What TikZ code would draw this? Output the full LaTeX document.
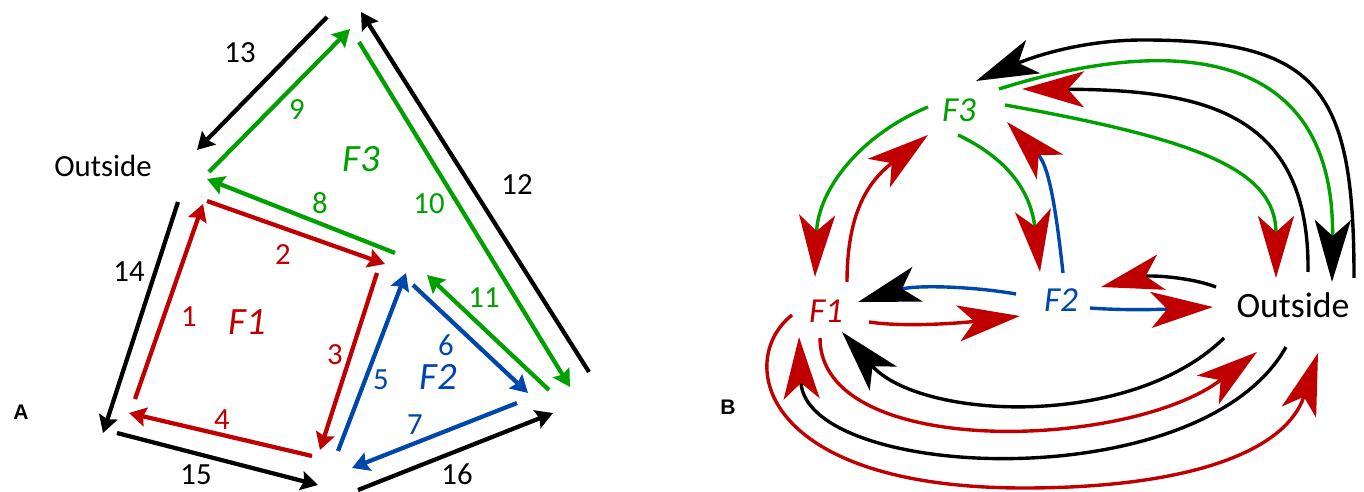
\documentclass[tikz,border=0pt]{standalone}
\usepackage{fontspec}
\setmainfont{Carlito}
\newfontfamily\panelfont{Liberation Sans}
\usetikzlibrary{arrows.meta,calc}
\definecolor{cRed}{HTML}{C00000}
\definecolor{cGreen}{HTML}{00A000}
\definecolor{cBlue}{HTML}{0047AB}
\tikzset{
  aflow/.style  ={line width=0.085cm, -{Stealth[length=0.34cm, width=0.38cm, inset=0.05cm]}},
  bflow/.style  ={line width=0.068cm},
  bheadR/.style ={-{Stealth[length=1.24cm, width=0.72cm, inset=0.32cm, color=cRed]}},
  bheadK/.style ={-{Stealth[length=1.24cm, width=0.72cm, inset=0.32cm, color=black]}},
  num/.style    ={font=\fontsize{17.5}{20}\selectfont, inner sep=0pt},
  fa/.style     ={font=\fontsize{22}{26}\selectfont\itshape, inner sep=0pt},
  fb/.style     ={font=\fontsize{20}{24}\selectfont\itshape, inner sep=0pt},
  outb/.style   ={font=\fontsize{20.3}{24}\selectfont, inner sep=0pt},
  panel/.style  ={font=\panelfont\bfseries\fontsize{12}{14}\selectfont, inner sep=0pt},
}
\begin{document}
\begin{tikzpicture}[x=0.02cm, y=-0.02cm]
\useasboundingbox (0,0) rectangle (1364,492);

% ---- panel A
\node[panel] (labA) at (21,412) {A};
\node[num] (outA) at (103,166) {Outside};
\node[fa, text=cGreen] (F3a) at (361,159) {F3};
\node[fa, text=cRed] (F1a) at (247,322) {F1};
\node[fa, text=cBlue] (F2a) at (438,377) {F2};

\draw[aflow, cRed] (135,399) -- (203,204);   \node[num, text=cRed] (l1) at (189,317) {1};
\draw[aflow, cRed] (207,201) -- (385,264);   \node[num, text=cRed] (l2) at (283,255) {2};
\draw[aflow, cRed] (377,273) -- (320,450);   \node[num, text=cRed] (l3) at (335,355) {3};
\draw[aflow, cRed] (312,456) -- (129,413);   \node[num, text=cRed] (l4) at (222,420) {4};
\draw[aflow, cBlue] (338,451) -- (406,273);  \node[num, text=cBlue] (l5) at (381,380) {5};
\draw[aflow, cBlue] (413,285) -- (528,393);  \node[num, text=cBlue] (l6) at (446,345) {6};
\draw[aflow, cBlue] (517,403) -- (352,468);  \node[num, text=cBlue] (l7) at (415,425) {7};
\draw[aflow, cGreen] (395,253) -- (207,179); \node[num, text=cGreen] (l8) at (320,203) {8};
\draw[aflow, cGreen] (209,172) -- (350,29);  \node[num, text=cGreen] (l9) at (297,110) {9};
\draw[aflow, cGreen] (359,42) -- (570,387);  \node[num, text=cGreen] (l10) at (429,204) {10};
\draw[aflow, cGreen] (549,390) -- (427,275); \node[num, text=cGreen] (l11) at (484,298) {11};
\draw[aflow] (589,372) -- (361,12);          \node[num] (l12) at (517,185) {12};
\draw[aflow] (327,17) -- (197,150);          \node[num] (l13) at (240,53) {13};
\draw[aflow] (178,202) -- (103,433);         \node[num] (l14) at (129,272) {14};
\draw[aflow] (117,433) -- (318,485);         \node[num] (l15) at (196,475) {15};
\draw[aflow] (358,490) -- (553,413);         \node[num] (l16) at (457,474) {16};

% ---- panel B
\node[panel] (labB) at (728,407) {B};
\node[fb, text=cGreen] (F3) at (959,110) {F3};
\node[fb, text=cRed] (F1) at (826,311) {F1};
\node[fb, text=cBlue] (F2) at (1061,300) {F2};
\node[outb] (outB) at (1293,305) {Outside};

% around F3
\draw[bflow, cGreen, bheadR] ($(F3)+(-31,-3)$) .. controls +(-68,28) and +(3,-87) .. ($(F1)+(-11,-34)$);
\draw[bflow, cRed, bheadR] ($(F1)+(21,-29)$) .. controls +(0,-72) and +(-58,45) .. ($(F3)+(-31,25)$);
\draw[bflow, cGreen, bheadR] ($(F3)+(-1,25)$) .. controls +(42,20) and +(-10,-87) .. ($(F2)+(-21,-28)$);
\draw[bflow, cBlue, bheadR] ($(F2)+(2,-27)$) .. controls +(-8,-73) and +(41,43) .. ($(F3)+(48,12)$);
\draw[bflow, black, bheadR] ($(outB)+(15,-33)$) .. controls +(2,-162) and +(178,1) .. ($(F3)+(63,-21)$);
\draw[bflow, cGreen, bheadK] ($(F3)+(40,-21)$) .. controls +(171,-54) and +(3,-237) .. ($(outB)+(39,-23)$);
\draw[bflow, cGreen, bheadR] ($(F3)+(46,-5)$) .. controls +(195,35) and +(0,-108) .. ($(outB)+(-17,-27)$);
\draw[bflow, black, bheadK] ($(outB)+(61,-27)$) .. controls +(0,-188) and +(177,0) .. ($(F3)+(184,-70)$)
  .. controls +(-63,0) and +(54,-23) .. ($(F3)+(17,-29)$);

% middle row
\draw[bflow, cBlue, bheadK] ($(F2)+(-45,-6)$) .. controls +(-46,-8) and +(57,-17) .. ($(F1)+(32,-9)$);
\draw[bflow, cRed, bheadR] ($(F1)+(43,11)$) .. controls +(40,6) and +(-50,6) .. ($(F2)+(-41,16)$);
\draw[bflow, cBlue, bheadR] ($(F2)+(29,8)$) .. controls +(40,3) and +(-43,2) .. ($(outB)+(-80,2)$);
\draw[bflow, black, bheadR] ($(outB)+(-77,-18)$) .. controls +(-26,-10) and +(49,-12) .. ($(F2)+(40,-13)$);

% bottom loops
\draw[bflow, black, bheadK] ($(outB)+(-69,33)$) .. controls +(-94,92) and +(78,88) .. ($(F1)+(16,21)$);
\draw[bflow, cRed, bheadR] ($(F1)+(-6,27)$) .. controls +(0,122) and +(-127,98) .. ($(outB)+(-36,47)$);
\draw[bflow, black, bheadR] ($(outB)+(-7,42)$) .. controls +(-86,153) and +(6,143) .. ($(F1)+(-27,26)$);
\draw[bflow, cRed, bheadR] ($(F1)+(-34,4)$) .. controls +(-57,45) and +(-264,0) .. ($(F1)+(198,177)$)
  .. controls +(156,0) and +(-33,102) .. ($(outB)+(25,48)$);
\end{tikzpicture}
\end{document}
